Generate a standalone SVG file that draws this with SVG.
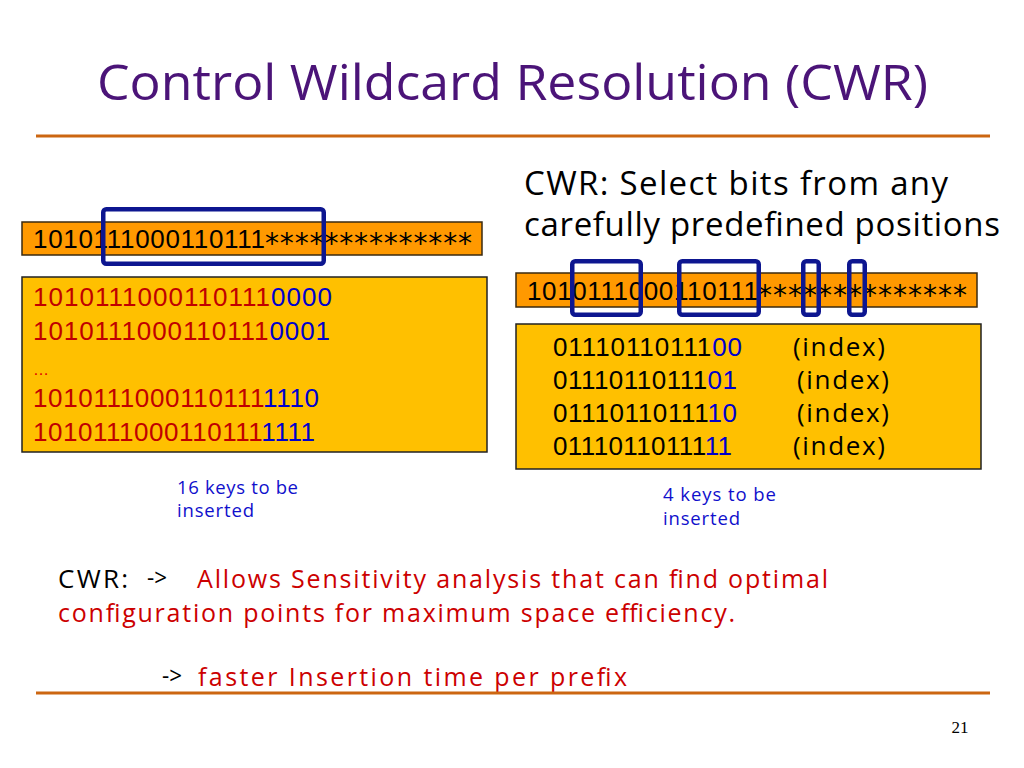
<svg xmlns="http://www.w3.org/2000/svg" width="1024" height="768" viewBox="0 0 1024 768">
<style>
.comic{font-family:"Open Sans","Noto Sans","DejaVu Sans",sans-serif}
.bits{font-family:"Liberation Sans",Arial,sans-serif;font-size:26px}
.stars{font-family:"DejaVu Sans",sans-serif;font-size:28px}
.bar{fill:#FF9900;stroke:#3a2a10;stroke-width:1.5}
.box{fill:#FFC000;stroke:#222;stroke-width:1.5}
.sel{fill:none;stroke:#0D1690;stroke-width:4.5}
.rule{stroke:#CC6611;stroke-width:3}
.red{fill:#C00000}
.blue{fill:#0000CC}
.txtred{fill:#CC0000}
.note{font-size:18.5px;fill:#1010CC}
</style>
<rect width="1024" height="768" fill="#ffffff"/>
<g id="title">
<text class="comic" x="97" y="100" font-size="50" fill="#4B1478" textLength="831" lengthAdjust="spacingAndGlyphs">Control Wildcard Resolution (CWR)</text>
<line class="rule" x1="36" y1="136" x2="990" y2="136"/>
</g>
<g id="left-prefix">
<rect class="bar" x="22" y="222" width="460" height="33"/>
<text class="bits" x="33" y="248" textLength="232" lengthAdjust="spacing">1010111000110111</text>
<text class="stars" x="265" y="253" textLength="207" lengthAdjust="spacing">**************</text>
</g>
<g id="left-keys">
<rect class="box" x="22" y="277" width="465" height="175"/>
<text class="bits" x="33" y="306" textLength="299" lengthAdjust="spacing"><tspan class="red">1010111000110111</tspan><tspan class="blue">0000</tspan></text>
<text class="bits" x="33" y="340" textLength="297" lengthAdjust="spacing"><tspan class="red">1010111000110111</tspan><tspan class="blue">0001</tspan></text>
<text x="33" y="375" font-family="Liberation Sans,Arial,sans-serif" font-size="16" fill="#E00000">…</text>
<text class="bits" x="33" y="407" textLength="286" lengthAdjust="spacing"><tspan class="red">1010111000110111</tspan><tspan class="blue">1110</tspan></text>
<text class="bits" x="33" y="441" textLength="282" lengthAdjust="spacing"><tspan class="red">1010111000110111</tspan><tspan class="blue">1111</tspan></text>
</g>
<g id="left-note">
<text class="comic note" x="177" y="494" textLength="121" lengthAdjust="spacing">16 keys to be</text>
<text class="comic note" x="177" y="517" textLength="77" lengthAdjust="spacing">inserted</text>
</g>
<g id="right-heading">
<text class="comic" x="524" y="195" font-size="33" fill="#000" textLength="424" lengthAdjust="spacing">CWR: Select bits from any</text>
<text class="comic" x="524" y="236" font-size="33" fill="#000" textLength="476" lengthAdjust="spacing">carefully predefined positions</text>
</g>
<g id="right-prefix">
<rect class="bar" x="516" y="273" width="461" height="34"/>
<text class="bits" x="527" y="300" textLength="231" lengthAdjust="spacing">1010111000110111</text>
<text class="stars" x="758" y="305" textLength="209" lengthAdjust="spacing">**************</text>
</g>
<g id="right-keys">
<rect class="box" x="516" y="324" width="465" height="145"/>
<text class="bits" x="553" y="356" textLength="189" lengthAdjust="spacing">01110110111<tspan class="blue">00</tspan></text>
<text class="bits" x="553" y="389" textLength="184" lengthAdjust="spacing">01110110111<tspan class="blue">01</tspan></text>
<text class="bits" x="553" y="422" textLength="184" lengthAdjust="spacing">01110110111<tspan class="blue">10</tspan></text>
<text class="bits" x="553" y="455" textLength="179" lengthAdjust="spacing">01110110111<tspan class="blue">11</tspan></text>
<text class="comic" x="793" y="356" font-size="26" textLength="92" lengthAdjust="spacing">(index)</text>
<text class="comic" x="797" y="389" font-size="26" textLength="92" lengthAdjust="spacing">(index)</text>
<text class="comic" x="797" y="422" font-size="26" textLength="92" lengthAdjust="spacing">(index)</text>
<text class="comic" x="793" y="455" font-size="26" textLength="92" lengthAdjust="spacing">(index)</text>
</g>
<g id="right-note">
<text class="comic note" x="663" y="501" textLength="113" lengthAdjust="spacing">4 keys to be</text>
<text class="comic note" x="663" y="525" textLength="77" lengthAdjust="spacing">inserted</text>
</g>
<g id="selectors">
<rect class="sel" x="103.25" y="209.25" width="220.5" height="54.5" rx="3"/>
<rect class="sel" x="572.25" y="261.25" width="68.5" height="53.5" rx="3"/>
<rect class="sel" x="679.25" y="261.25" width="79.5" height="53.5" rx="3"/>
<rect class="sel" x="803.25" y="261.25" width="15.5" height="53.5" rx="3"/>
<rect class="sel" x="849.25" y="261.25" width="15.5" height="53.5" rx="3"/>
</g>
<g id="summary">
<text class="comic" x="58" y="588" font-size="26" fill="#000" textLength="70" lengthAdjust="spacing">CWR:</text>
<text class="comic" x="147" y="586" font-size="24" fill="#000" textLength="20" lengthAdjust="spacingAndGlyphs">-&gt;</text>
<text class="comic txtred" x="197" y="588" font-size="25" textLength="631" lengthAdjust="spacing">Allows Sensitivity analysis that can find optimal</text>
<text class="comic txtred" x="58" y="622" font-size="25" textLength="677" lengthAdjust="spacing">configuration points for maximum space efficiency.</text>
<text class="comic" x="162" y="684" font-size="24" fill="#000" textLength="20" lengthAdjust="spacingAndGlyphs">-&gt;</text>
<text class="comic txtred" x="198" y="686" font-size="25" textLength="429" lengthAdjust="spacing">faster Insertion time per prefix</text>
<line class="rule" x1="36" y1="693" x2="990" y2="693"/>
</g>
<g id="page-number">
<text x="960" y="733" font-family="Liberation Serif,Times New Roman,serif" font-size="17" text-anchor="middle" fill="#000">21</text>
</g>
</svg>
